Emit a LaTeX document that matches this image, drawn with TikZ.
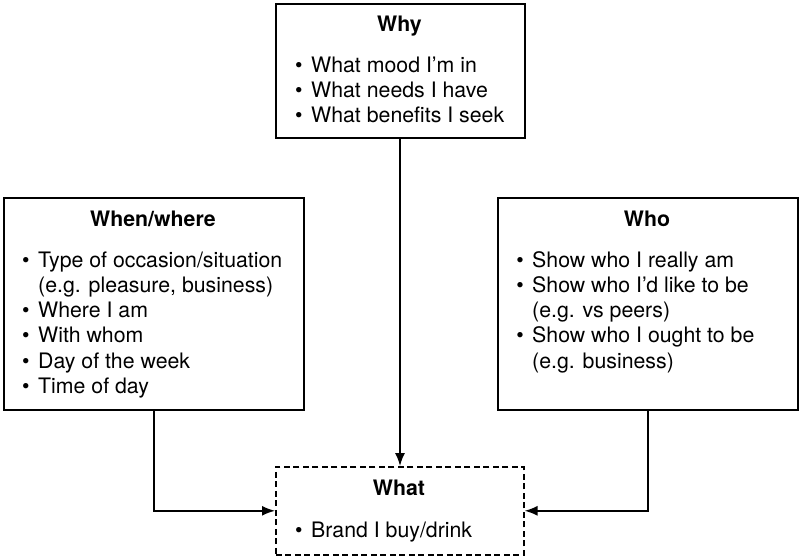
\documentclass[tikz,border=0pt]{standalone}
\usepackage{fontspec}
\setmainfont{TeX Gyre Heros}
\usetikzlibrary{arrows.meta}
\newcommand{\bulitem}{\llap{\textbullet\hspace{8.5pt}}}
\begin{document}
\begin{tikzpicture}[x=1pt,y=-1pt,
  box/.style={draw, line width=1.6pt, anchor=north west, inner sep=0pt},
  txt/.style={anchor=base west, inner sep=0pt, font=\fontsize{21.3}{25.3}\selectfont},
  ttl/.style={anchor=base, inner sep=0pt, font=\fontsize{21.3}{25.3}\selectfont\bfseries},
  conn/.style={line width=1.5pt, -{Latex[length=13pt,width=10pt]}}
]
\useasboundingbox (0,0) rectangle (800,556);
% boxes
\node[box, minimum width=249pt, minimum height=134pt] (why) at (275,3) {};
\node[box, minimum width=300pt, minimum height=212pt] (when) at (3,197) {};
\node[box, minimum width=300pt, minimum height=212pt] (who) at (497,197) {};
\node[box, dash pattern=on 6pt off 3.5pt, minimum width=248pt, minimum height=88pt] (what) at (275,466) {};
% Why
\node[ttl] (whyt) at (399.5,32) {Why};
\node[txt] (why1) at (311,73) {\bulitem What mood I’m in};
\node[txt] (why2) at (311,98) {\bulitem What needs I have};
\node[txt] (why3) at (311,123) {\bulitem What benefits I seek};
% When/where
\node[ttl] (whent) at (153,226) {When/where};
\node[txt] (when1) at (38,267) {\bulitem Type of occasion/situation};
\node[txt] (when2) at (38,292.3) {(e.g. pleasure, business)};
\node[txt] (when3) at (38,317.6) {\bulitem Where I am};
\node[txt] (when4) at (38,342.9) {\bulitem With whom};
\node[txt] (when5) at (38,368.2) {\bulitem Day of the week};
\node[txt] (when6) at (38,393.5) {\bulitem Time of day};
% Who
\node[ttl] (whot) at (647,226) {Who};
\node[txt] (who1) at (532,267) {\bulitem Show who I really am};
\node[txt] (who2) at (532,292.3) {\bulitem Show who I’d like to be};
\node[txt] (who3) at (532,317.6) {(e.g. vs peers)};
\node[txt] (who4) at (532,342.9) {\bulitem Show who I ought to be};
\node[txt] (who5) at (532,368.2) {(e.g. business)};
% What
\node[ttl] (whatt) at (399,495) {What};
\node[txt] (what1) at (311,537) {\bulitem Brand I buy/drink};
% connectors
\coordinate (va) at (400,0);
\draw[conn] (why.south -| va) -- (what.north -| va);
\draw[conn] (when.south) |- (what.west);
\draw[conn] (who.south) |- (what.east);
\end{tikzpicture}
\end{document}
